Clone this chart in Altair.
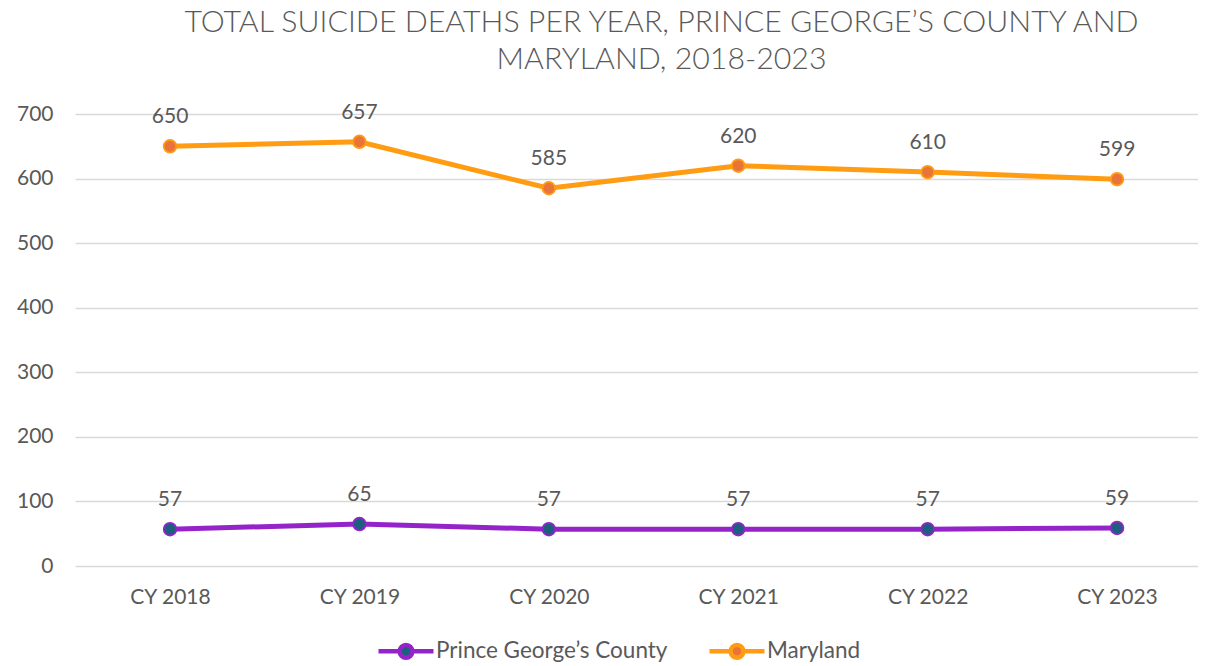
import altair as alt
import pandas as pd

years = ["CY 2018", "CY 2019", "CY 2020", "CY 2021", "CY 2022", "CY 2023"]
pg_county = [57, 65, 57, 57, 57, 59]
maryland = [650, 657, 585, 620, 610, 599]
series_names = ["Prince George\u2019s County", "Maryland"]

rows = []
for y, v in zip(years, pg_county):
    rows.append({"year": y, "series": series_names[0], "value": v})
for y, v in zip(years, maryland):
    rows.append({"year": y, "series": series_names[1], "value": v})
df = pd.DataFrame(rows)

FONT = "Lato"
GRAY = "#595959"
line_colors = ["#9424C9", "#FF9C12"]
fill_colors = ["#1C5F7E", "#E9743A"]

x_enc = alt.X("year:N", sort=years, title=None,
              scale=alt.Scale(type="point", padding=0.4646, align=0.54),
              axis=alt.Axis(labelAngle=0, labelFontSize=21, labelColor=GRAY, labelFont=FONT,
                            domain=False, ticks=False, grid=False, labelPadding=20))
y_enc = alt.Y("value:Q", title=None,
              scale=alt.Scale(domain=[0, 700]),
              axis=alt.Axis(values=[0, 100, 200, 300, 400, 500, 600, 700], labelFontSize=21,
                            labelColor=GRAY, labelFont=FONT, domain=False, ticks=False,
                            gridColor="#D9D9D9", gridWidth=1.5, labelPadding=22))

stroke_scale = alt.Scale(domain=series_names, range=line_colors)
fill_scale = alt.Scale(domain=series_names, range=fill_colors)

legend = alt.Legend(title=None, orient="none", direction="horizontal",
                    legendX=301, legendY=507,
                    symbolType="M-1,0H-0.27M0.27,0H1M0.23,0A0.23,0.23,0,1,1,-0.23,0A0.23,0.23,0,1,1,0.23,0Z",
                    symbolSize=3025, symbolStrokeWidth=4.5, labelFontSize=22.5,
                    labelColor=GRAY, labelFont=FONT, columnPadding=32, labelOffset=0,
                    labelLimit=500)

base = alt.Chart(df)

lines = base.mark_line(strokeWidth=5).encode(
    x=x_enc, y=y_enc,
    stroke=alt.Stroke("series:N", scale=stroke_scale, legend=legend),
)
points = base.mark_point(filled=True, size=160, strokeWidth=1.8, opacity=1, shape="circle").encode(
    x=x_enc, y=y_enc,
    fill=alt.Fill("series:N", scale=fill_scale, legend=legend),
    stroke=alt.Stroke("series:N", scale=stroke_scale, legend=legend),
)
labels = base.mark_text(fontSize=21, color=GRAY, font=FONT, baseline="alphabetic", dy=-23).encode(
    x=x_enc, y=y_enc, text=alt.Text("value:Q"),
)

chart = (lines + points + labels).properties(
    width=1123, height=452,
    autosize=alt.AutoSizeParams(type="none"),
    padding={"left": 67, "top": 106, "right": 0, "bottom": 100},
    title=alt.Title(["TOTAL SUICIDE DEATHS PER YEAR, PRINCE GEORGE\u2019S COUNTY AND", "MARYLAND, 2018-2023"],
                    fontSize=30.3, font=FONT, fontWeight=300, color=GRAY, anchor="middle",
                    lineHeight=37, offset=26, dx=25),
).configure_view(stroke=None)

chart.save("out.html", embed_options={"renderer": "svg", "actions": False})
